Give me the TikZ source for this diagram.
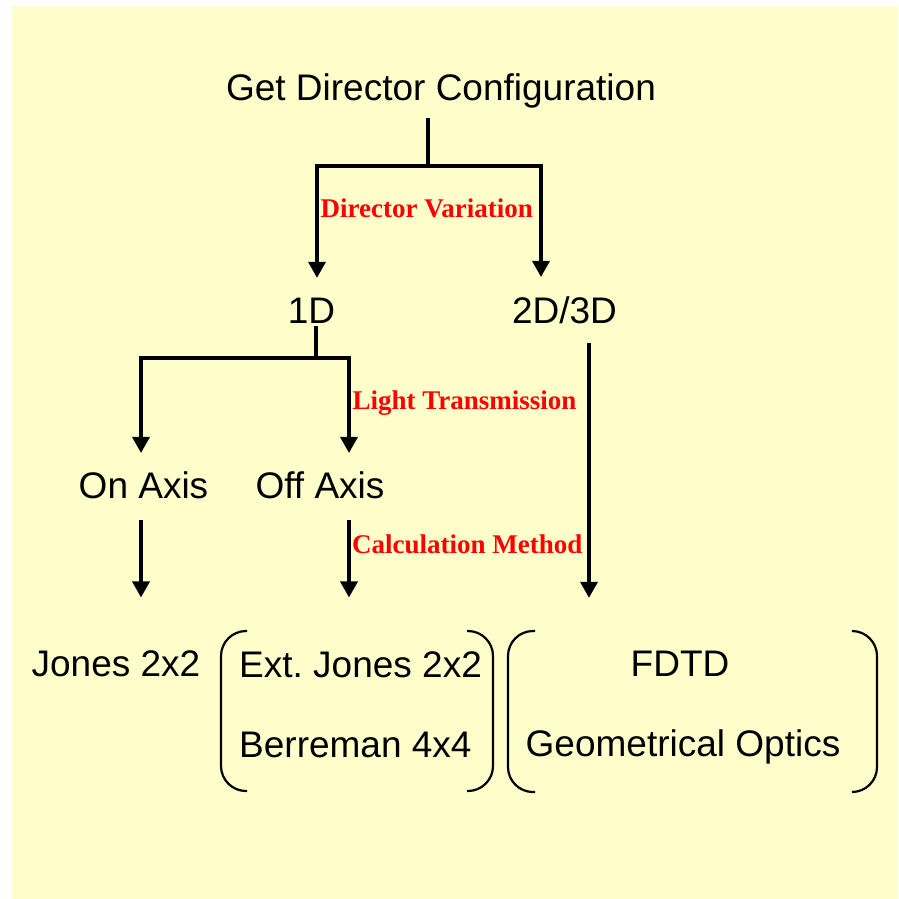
\documentclass[tikz,border=0pt]{standalone}
\usepackage{fontspec}
\setmainfont{Liberation Sans}
\newfontfamily\tagfont{Liberation Serif}
\usetikzlibrary{arrows.meta}
\definecolor{paper}{RGB}{255,255,204}
\frenchspacing

\begin{document}
\begin{tikzpicture}[x=1pt, y=-1pt,
  txt/.style={anchor=base, inner sep=0pt, font=\fontsize{37}{44}\selectfont},
  tag/.style={anchor=base west, inner sep=0pt, text=red, font=\tagfont\bfseries\fontsize{27}{32}\selectfont},
  conn/.style={line width=3.4pt},
  arr/.style={conn, -{Triangle[width=17pt,length=16pt]}},
  paren/.style={line width=2.2pt, rounded corners=25pt}]
\useasboundingbox (0,0) rectangle (898,899);
\fill[paper] (12,6) rectangle (898,899);

\node[txt] (get) at (441,100) {Get Director Configuration};
\node[txt] (oned) at (311.5,323) {1D};
\node[txt] (twod) at (564.5,323) {2D/3D};
\node[txt] (onax) at (143.5,498) {On Axis};
\node[txt] (offax) at (320,498) {Off Axis};
\node[txt] (jones) at (116,676) {Jones 2x2};
\node[txt, anchor=base west] (extj) at (239,677) {Ext. Jones 2x2};
\node[txt, anchor=base west] (berr) at (239,757) {Berreman 4x4};
\node[txt] (fdtd) at (680,676) {FDTD};
\node[txt] (geom) at (683,756) {Geometrical Optics};

\node[tag] (dirvar) at (320.5,217) {Director Variation};
\node[tag] (lighttr) at (352.5,409) {Light Transmission};
\node[tag] (calcm) at (352,553) {Calculation Method};

\coordinate (j1) at (428,166);
\coordinate (j1l) at (317,166);
\coordinate (j1r) at (541,166);
\draw[conn, shorten <=10pt] (get.south -| j1) -- (j1);
\draw[arr, shorten >=19.5pt] (j1) -- (j1l) -- (j1l |- oned.north);
\draw[arr, shorten >=19pt] (j1) -- (j1r) -- (j1r |- twod.north);

\coordinate (j2) at (316,358);
\coordinate (j2l) at (141,358);
\coordinate (j2r) at (349,358);
\draw[conn, shorten <=3pt] (oned.south -| j2) -- (j2);
\draw[arr, shorten >=18pt] (j2) -- (j2l) -- (j2l |- onax.north);
\draw[arr, shorten >=18pt] (j2) -- (j2r) -- (j2r |- offax.north);
\draw[arr, shorten <=21pt, shorten >=52.5pt] (j2l |- onax.south) -- (j2l |- jones.north);
\draw[arr, shorten <=21pt, shorten >=53.5pt] (j2r |- offax.south) -- (j2r |- extj.north);

\coordinate (j3) at (589,343);
\draw[arr, shorten >=52.5pt] (j3) -- (j3 |- fdtd.north);

\draw[paren] (247,631) -- (221,631) -- (221,791) -- (247,791);
\draw[paren] (467,631) -- (493,631) -- (493,791) -- (467,791);
\draw[paren] (535,631) -- (508,631) -- (508,792) -- (535,792);
\draw[paren] (852,631) -- (877,631) -- (877,792) -- (852,792);
\end{tikzpicture}
\end{document}
